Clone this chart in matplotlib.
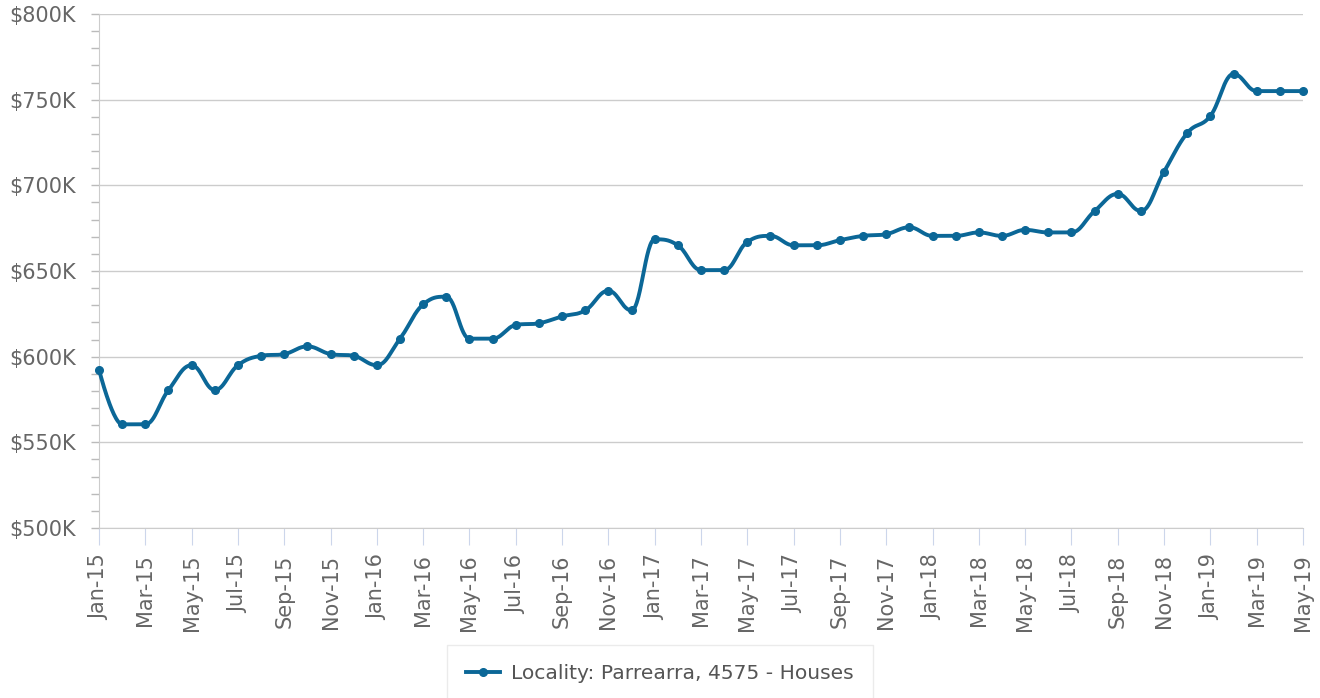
import matplotlib
matplotlib.use("Agg")
import matplotlib.pyplot as plt
from matplotlib.lines import Line2D
from matplotlib.ticker import MultipleLocator, FuncFormatter
import numpy as np
import pandas as pd

# Median house value, Parrearra 4575 (in $K), monthly Jan-15 .. May-19
months = pd.date_range("2015-01-01", periods=53, freq="MS").strftime("%b-%y").tolist()
median_value = [
    592.5, 560.5, 560.5, 580.5, 595.0, 580.5, 595.0, 600.5, 601.5, 606.0, 601.5, 600.5,
    595.0, 610.5, 630.5, 635.0, 610.5, 610.5, 618.5, 619.5, 623.5, 627.0, 638.5, 627.0,
    668.5, 665.0, 650.5, 650.5, 667.0, 670.5, 665.0, 665.0, 668.0, 670.5, 671.5, 675.5,
    670.5, 670.5, 672.5, 670.5, 674.0, 672.5, 672.5, 685.0, 695.0, 685.0, 708.0, 730.5,
    740.5, 765.0, 755.0, 755.0, 755.0,
]
series_name = "Locality: Parrearra, 4575 - Houses"

LINE = "#0b6797"
TEXT = "#666666"
GRID = "#cccccc"


def spline_path(xs, ys, smoothing=1.5, steps=30):
    # highcharts-style spline: control points pulled towards neighbours, no overshoot
    n = len(xs)
    left = [(xs[i], ys[i]) for i in range(n)]
    right = [(xs[i], ys[i]) for i in range(n)]
    d = smoothing + 1
    for i in range(1, n - 1):
        px, py = xs[i], ys[i]
        lx, ly = xs[i - 1], ys[i - 1]
        nx, ny = xs[i + 1], ys[i + 1]
        lcx = (smoothing * px + lx) / d
        lcy = (smoothing * py + ly) / d
        rcx = (smoothing * px + nx) / d
        rcy = (smoothing * py + ny) / d
        corr = (rcy - lcy) * (rcx - px) / (rcx - lcx) + py - rcy
        lcy += corr
        rcy += corr
        if lcy > ly and lcy > py:
            lcy = max(ly, py)
            rcy = 2 * py - lcy
        elif lcy < ly and lcy < py:
            lcy = min(ly, py)
            rcy = 2 * py - lcy
        if rcy > ny and rcy > py:
            rcy = max(ny, py)
            lcy = 2 * py - rcy
        elif rcy < ny and rcy < py:
            rcy = min(ny, py)
            lcy = 2 * py - rcy
        left[i] = (lcx, lcy)
        right[i] = (rcx, rcy)
    t = np.linspace(0, 1, steps)[:, None]
    out = [np.array([[xs[0], ys[0]]])]
    for i in range(1, n):
        p0 = np.array([xs[i - 1], ys[i - 1]])
        p1 = np.array(right[i - 1])
        p2 = np.array(left[i])
        p3 = np.array([xs[i], ys[i]])
        seg = ((1 - t) ** 3) * p0 + 3 * ((1 - t) ** 2) * t * p1 + 3 * (1 - t) * t ** 2 * p2 + t ** 3 * p3
        out.append(seg[1:])
    pts = np.vstack(out)
    return pts[:, 0], pts[:, 1]


x = np.arange(len(months))
y = np.array(median_value)

fig = plt.figure(figsize=(13.2, 6.98), dpi=100)
ax = fig.add_axes([99 / 1320, 1 - 528 / 698, (1303 - 99) / 1320, (528 - 14) / 698])

sx, sy = spline_path(x, y)
ax.plot(sx, sy, color=LINE, lw=2.8, solid_capstyle="round", clip_on=False, zorder=3)
ax.plot(x, y, "o", color=LINE, ms=5.5, clip_on=False, zorder=4)

ax.set_xlim(0, len(months) - 1)
ax.set_ylim(500, 800)

ax.yaxis.set_major_locator(MultipleLocator(50))
ax.yaxis.set_minor_locator(MultipleLocator(10))
ax.yaxis.set_major_formatter(FuncFormatter(lambda v, p: f"${v:.0f}K"))
ax.set_xticks(x[::2])
ax.set_xticklabels(months[::2], rotation=90)

ax.grid(axis="y", color=GRID, lw=1)
ax.set_axisbelow(True)
for s in ["top", "right"]:
    ax.spines[s].set_visible(False)
ax.spines["left"].set_color(GRID)
ax.spines["bottom"].set_color(GRID)

ax.tick_params(axis="y", which="both", length=5.5, width=1, color="#bbbbbb",
               labelsize=15, labelcolor=TEXT, pad=11)
ax.tick_params(axis="x", length=12, color="#ccd6eb", labelsize=15, labelcolor=TEXT, pad=7)

handle = Line2D([], [], color=LINE, lw=2.8, marker="o", ms=5.5)
leg = fig.legend([handle], [series_name], loc="upper center",
                 bbox_to_anchor=(0.5, 1 - 645 / 698), borderaxespad=0, frameon=True,
                 fancybox=False, fontsize=14.6, borderpad=0.95, handlelength=1.65,
                 handletextpad=0.55)
leg.get_frame().set_edgecolor("#e6e6e6")
leg.get_frame().set_linewidth(1)
for t in leg.get_texts():
    t.set_color("#555555")

fig.savefig("out.png", dpi=100)
